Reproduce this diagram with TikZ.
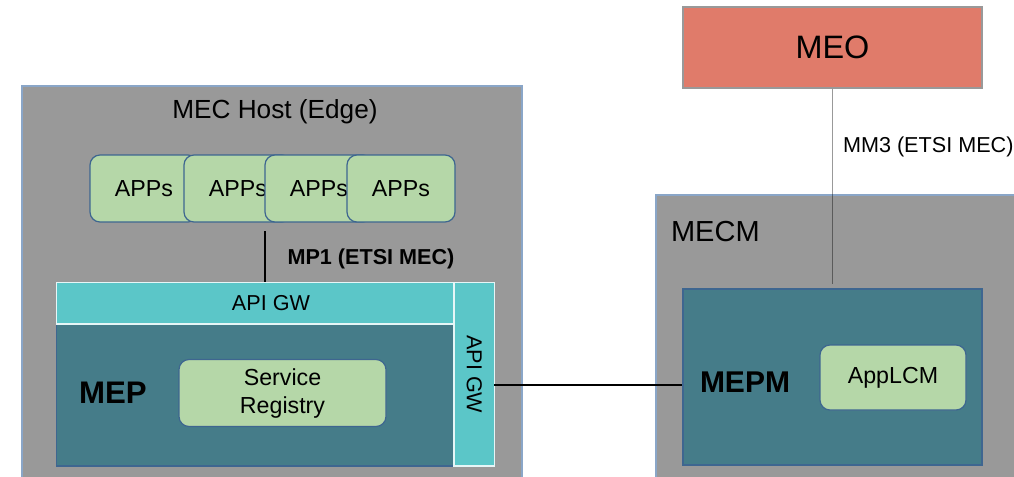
\documentclass[tikz,border=0pt]{standalone}
\usepackage{fontspec}
\setmainfont{Liberation Sans}
\definecolor{boxgray}{HTML}{999999}
\definecolor{edgeblue}{HTML}{8AA6C8}
\definecolor{appgreen}{HTML}{B5D7A8}
\definecolor{appedge}{HTML}{3E6690}
\definecolor{gwteal}{HTML}{5BC6C8}
\definecolor{mepteal}{HTML}{457C89}
\definecolor{meored}{HTML}{E07B6A}
\tikzset{
	appbox/.style={rectangle, rounded corners=5pt, fill=appgreen, draw=appedge,
		line width=0.6pt, inner sep=0pt, font=\fontsize{11.6}{14}\selectfont},
	gwbox/.style={rectangle, fill=gwteal, draw=white!85!gwteal, line width=0.8pt,
		inner sep=0pt, font=\fontsize{10.8}{12}\selectfont},
	platbox/.style={rectangle, fill=mepteal, draw=appedge, line width=0.6pt, inner sep=0pt}
}
\begin{document}
\begin{tikzpicture}[x=0.5pt, y=-0.5pt]
		\useasboundingbox[fill=white] (0,0) rectangle (1014,477);

		\draw[fill=boxgray, draw=edgeblue, line width=0.8pt] (22,86) rectangle (522,500);
		\draw[fill=boxgray, draw=edgeblue, line width=0.8pt] (656,195) rectangle (1030,500);

		\node[font=\fontsize{13.1}{15}\selectfont] (hostlbl) at (275,112) {MEC Host (Edge)};

		\foreach \x [count=\i] in {144,238,319,401}
			\node[appbox, minimum width=54pt, minimum height=33.5pt] (app\i) at (\x,188.5) {APPs};

		\node[platbox, minimum width=198.75pt, minimum height=71pt] (mep) at (255.25,395) {};
		\node[gwbox, minimum width=198.75pt, minimum height=20.75pt] (gwh) at (255.25,303.25) {};
		\node at (271,303.25) {\fontsize{10.8}{12}\selectfont API GW};
		\node[gwbox, rotate=-90, minimum width=91.75pt, minimum height=20.25pt] (gwv) at (474.25,374.25) {API GW};

		\node[font=\fontsize{15.6}{17}\selectfont\bfseries] (meplbl) at (113,393) {MEP};
		\node[appbox, align=center, minimum width=103.5pt, minimum height=33.5pt] (reg) at (282.5,393) {Service\\Registry};

		\coordinate (mpa) at (265,231);
		\draw[line width=0.8pt] (mpa) -- (mpa |- gwh.north);
		\node[font=\fontsize{10.8}{13}\selectfont\bfseries] (mplbl) at (371,259) {MP1 (ETSI MEC)};

		\node[rectangle, fill=meored, draw=boxgray, line width=0.8pt, inner sep=0pt,
			minimum width=149.5pt, minimum height=40.5pt,
			font=\fontsize{16.2}{18}\selectfont] (meo) at (832.5,47.5) {MEO};

		\node[anchor=west, font=\fontsize{14.5}{16}\selectfont] (mecmlbl) at (664,232) {MECM};

		\node[platbox, minimum width=149.5pt, minimum height=88pt] (mepm) at (832.5,377) {};
		\node[font=\fontsize{15}{17}\selectfont\bfseries] (mepmlbl) at (745,382) {MEPM};
		\node[appbox, minimum width=73pt, minimum height=32.5pt] (applcm) at (893,377.5) {AppLCM};

		\draw[line width=0.8pt, black, opacity=0.4] (meo.south) -- ++(0,195) coordinate (mma);
		\node[anchor=west, font=\fontsize{10.8}{12}\selectfont] (mmlbl) at (836,147) {MM3 (ETSI MEC)};

		\coordinate (ifa) at (494,385);
		\draw[line width=0.8pt] (ifa) -- (ifa -| mepm.west);
	\end{tikzpicture}
\end{document}
